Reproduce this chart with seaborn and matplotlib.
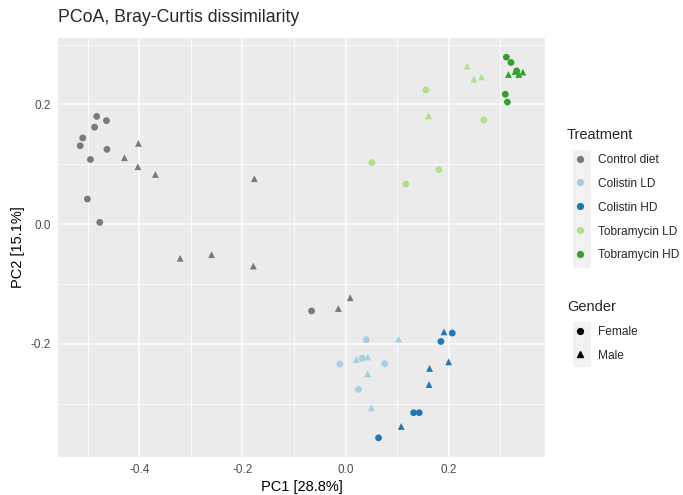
import numpy as np
import pandas as pd
import matplotlib
matplotlib.use("Agg")
import matplotlib.pyplot as plt
from matplotlib.lines import Line2D
from matplotlib.patches import Rectangle
import seaborn as sns

# PCoA coordinates per sample group: (PC1, PC2)
control_female_pc1 = [-0.483, -0.464, -0.487, -0.510, -0.515, -0.463, -0.495, -0.501, -0.477, -0.066]
control_female_pc2 = [0.180, 0.173, 0.162, 0.144, 0.131, 0.125, 0.108, 0.042, 0.003, -0.145]
control_male_pc1 = [-0.402, -0.429, -0.403, -0.369, -0.177, -0.321, -0.260, -0.179, 0.009, -0.014]
control_male_pc2 = [0.135, 0.111, 0.096, 0.083, 0.076, -0.057, -0.051, -0.070, -0.123, -0.141]

colistin_ld_female_pc1 = [0.040, -0.011, 0.032, 0.076, 0.025]
colistin_ld_female_pc2 = [-0.193, -0.234, -0.224, -0.233, -0.276]
colistin_ld_male_pc1 = [0.103, 0.021, 0.043, 0.043, 0.050]
colistin_ld_male_pc2 = [-0.192, -0.226, -0.222, -0.250, -0.307]

colistin_hd_female_pc1 = [0.207, 0.185, 0.132, 0.143, 0.064]
colistin_hd_female_pc2 = [-0.182, -0.196, -0.315, -0.315, -0.357]
colistin_hd_male_pc1 = [0.191, 0.200, 0.163, 0.162, 0.108]
colistin_hd_male_pc2 = [-0.180, -0.230, -0.241, -0.268, -0.338]

tobra_ld_female_pc1 = [0.156, 0.268, 0.181, 0.117, 0.051]
tobra_ld_female_pc2 = [0.224, 0.174, 0.091, 0.067, 0.103]
tobra_ld_male_pc1 = [0.236, 0.249, 0.264, 0.161]
tobra_ld_male_pc2 = [0.264, 0.242, 0.246, 0.181]

tobra_hd_female_pc1 = [0.312, 0.321, 0.310, 0.314, 0.332]
tobra_hd_female_pc2 = [0.279, 0.270, 0.217, 0.204, 0.256]
tobra_hd_male_pc1 = [0.316, 0.329, 0.336, 0.344]
tobra_hd_male_pc2 = [0.250, 0.255, 0.250, 0.254]

treatments = ["Control diet", "Colistin LD", "Colistin HD", "Tobramycin LD", "Tobramycin HD"]
genders = ["Female", "Male"]
colors = ["#7a7a7a", "#a6cee3", "#1f78b4", "#b2df8a", "#33a02c"]

groups = [
    ("Control diet", "Female", control_female_pc1, control_female_pc2),
    ("Control diet", "Male", control_male_pc1, control_male_pc2),
    ("Colistin LD", "Female", colistin_ld_female_pc1, colistin_ld_female_pc2),
    ("Colistin LD", "Male", colistin_ld_male_pc1, colistin_ld_male_pc2),
    ("Colistin HD", "Female", colistin_hd_female_pc1, colistin_hd_female_pc2),
    ("Colistin HD", "Male", colistin_hd_male_pc1, colistin_hd_male_pc2),
    ("Tobramycin LD", "Female", tobra_ld_female_pc1, tobra_ld_female_pc2),
    ("Tobramycin LD", "Male", tobra_ld_male_pc1, tobra_ld_male_pc2),
    ("Tobramycin HD", "Female", tobra_hd_female_pc1, tobra_hd_female_pc2),
    ("Tobramycin HD", "Male", tobra_hd_male_pc1, tobra_hd_male_pc2),
]
df = pd.concat(
    [pd.DataFrame({"PC1": x, "PC2": y, "Treatment": t, "Gender": g}) for t, g, x, y in groups],
    ignore_index=True,
)

sns.set_theme(style="darkgrid")
plt.rcParams["font.family"] = ["Liberation Sans", "DejaVu Sans"]

fig = plt.figure(figsize=(6.83, 4.95), dpi=100)
ax = fig.add_axes([58 / 683, 1 - 457 / 495, (545 - 58) / 683, (457 - 38) / 495])
ax.set_facecolor("#EBEBEB")

palette = dict(zip(treatments, colors))
markers = {"Female": "o", "Male": "^"}
sns.scatterplot(
    data=df, x="PC1", y="PC2", hue="Treatment", style="Gender",
    hue_order=treatments, style_order=genders, palette=palette, markers=markers,
    s=24, linewidth=0, legend=False, ax=ax,
)

ax.set_xlim(-0.558, 0.387)
ax.set_ylim(-0.389, 0.311)
ax.set_xticks([-0.4, -0.2, 0.0, 0.2])
ax.set_yticks([-0.2, 0.0, 0.2])
ax.set_xticklabels(["-0.4", "-0.2", "0.0", "0.2"])
ax.set_yticklabels(["-0.2", "0.0", "0.2"])
ax.set_xticks([-0.5, -0.3, -0.1, 0.1, 0.3], minor=True)
ax.set_yticks([-0.3, -0.1, 0.1, 0.3], minor=True)
ax.grid(which="major", color="white", linewidth=1.1)
ax.grid(which="minor", color="white", linewidth=0.55)
ax.set_axisbelow(True)
for s in ax.spines.values():
    s.set_visible(False)
ax.tick_params(axis="both", which="major", length=3, width=0.8, color="#333333",
               labelsize=8.5, labelcolor="#4d4d4d", pad=2, direction="out")
ax.tick_params(axis="both", which="minor", length=0)
ax.set_xlabel("PC1 [28.8%]", fontsize=10.5, color="black", labelpad=3)
ax.set_ylabel("PC2 [15.1%]", fontsize=10.5, color="black", labelpad=4)
fig.text(58 / 683, 1 - 18 / 495, "PCoA, Bray-Curtis dissimilarity", fontsize=12.8,
         ha="left", va="center")

# legend key backgrounds
fig.patches.append(Rectangle((573 / 683, 1 - 268 / 495), 18 / 683, 118 / 495,
                             transform=fig.transFigure, facecolor="#F2F2F2",
                             edgecolor="none", zorder=0))
fig.patches.append(Rectangle((573 / 683, 1 - 367 / 495), 18 / 683, 45 / 495,
                             transform=fig.transFigure, facecolor="#F2F2F2",
                             edgecolor="none", zorder=0))

t_handles = [Line2D([], [], marker="o", linestyle="none", color=c, markersize=4.2)
             for c in colors]
leg1 = fig.legend(t_handles, treatments, title="Treatment", loc="upper left",
                  bbox_to_anchor=(556 / 683, 1 - 117 / 495), frameon=False,
                  fontsize=8.6, title_fontsize=10.5, labelspacing=1.0,
                  handletextpad=0.4, handlelength=2.2, alignment="left")
g_handles = [Line2D([], [], marker=m, linestyle="none", color="black", markersize=4.2)
             for m in ["o", "^"]]
leg2 = fig.legend(g_handles, genders, title="Gender", loc="upper left",
                  bbox_to_anchor=(556 / 683, 1 - 289 / 495), frameon=False,
                  fontsize=8.6, title_fontsize=10.5, labelspacing=1.0,
                  handletextpad=0.4, handlelength=2.2, alignment="left")

fig.savefig("out.png", dpi=100)
